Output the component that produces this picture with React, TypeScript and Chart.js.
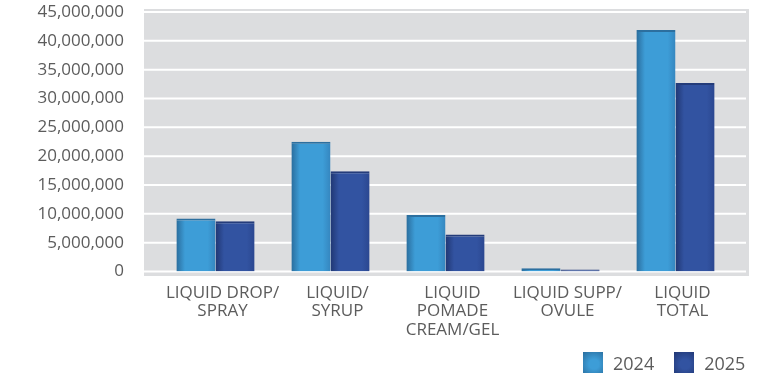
import React, { useEffect, useRef } from "react";
import { Chart, registerables } from "chart.js";

Chart.register(...registerables);

const categories: string[][] = [
  ["LIQUID DROP/", "SPRAY"],
  ["LIQUID/", "SYRUP"],
  ["LIQUID", "POMADE", "CREAM/GEL"],
  ["LIQUID SUPP/", "OVULE"],
  ["LIQUID", "TOTAL"],
];
const seriesNames = ["2024", "2025"];
const values2024 = [9200000, 22500000, 9800000, 550000, 41900000];
const values2025 = [8700000, 17400000, 6400000, 350000, 32700000];
const yMax = 45000000;
const yStep = 5000000;

const palette = [
  { edge: "#2a6d9d", mid: "#3d9dd7", right: "#3586bf", top: "#2c6f9f" },
  { edge: "#213773", mid: "#3253a1", right: "#2b4790", top: "#243c7a" },
];

const CAT_PCT = 0.68;

function makeGradient(ctx: any) {
  const chart = ctx.chart;
  const p = palette[ctx.datasetIndex] || palette[0];
  const xs = chart.scales && chart.scales.x;
  if (!chart.chartArea || !xs || ctx.type !== "data") return p.mid;
  const n = categories.length;
  const center = xs.getPixelForValue(ctx.dataIndex);
  const catW = (xs.right - xs.left) / n;
  const barW = (catW * CAT_PCT) / 2;
  const left = ctx.datasetIndex === 0 ? center - barW : center;
  const g = chart.ctx.createLinearGradient(left, 0, left + barW, 0);
  g.addColorStop(0, p.edge);
  g.addColorStop(0.22, p.mid);
  g.addColorStop(0.8, p.mid);
  g.addColorStop(1, p.right);
  return g;
}

const bgPlugin = {
  id: "plotBg",
  beforeDraw(chart: any) {
    const { ctx, chartArea } = chart;
    if (!chartArea) return;
    const ys = chart.scales.y;
    const l = chartArea.left - 14;
    const r = chartArea.right + 16;
    const t = chartArea.top - 3;
    const b = chartArea.bottom + 4.5;
    ctx.save();
    ctx.fillStyle = "#dcdddf";
    ctx.fillRect(l, t, r - l, b - t);
    ctx.strokeStyle = "#ffffff";
    ctx.lineWidth = 2;
    ys.ticks.forEach((tk: any) => {
      const y = ys.getPixelForValue(tk.value);
      ctx.beginPath();
      ctx.moveTo(l, y);
      ctx.lineTo(r - 3, y);
      ctx.stroke();
    });
    ctx.restore();
  },
};

export default function App() {
  const ref = useRef<HTMLCanvasElement | null>(null);

  useEffect(() => {
    if (!ref.current) return;
    const font = { family: "'Open Sans', sans-serif", size: 17 };
    const chart = new Chart(ref.current, {
      type: "bar",
      data: {
        labels: categories,
        datasets: [
          {
            label: seriesNames[0],
            data: values2024,
            backgroundColor: makeGradient,
            borderColor: palette[0].top,
            borderWidth: { top: 2, left: 0, right: 0, bottom: 0 },
            borderSkipped: "bottom",
            categoryPercentage: CAT_PCT,
            barPercentage: 1,
          },
          {
            label: seriesNames[1],
            data: values2025,
            backgroundColor: makeGradient,
            borderColor: palette[1].top,
            borderWidth: { top: 2, left: 0, right: 0, bottom: 0 },
            borderSkipped: "bottom",
            categoryPercentage: CAT_PCT,
            barPercentage: 1,
          },
        ],
      },
      options: {
        animation: false,
        responsive: true,
        maintainAspectRatio: false,
        layout: { padding: { top: 12, right: 40, left: 8, bottom: 30 } },
        plugins: {
          legend: { display: false },
          tooltip: { enabled: false },
        },
        scales: {
          x: {
            grid: { display: false, drawTicks: false },
            border: { display: false },
            ticks: {
              color: "#5c5c5c",
              font: { ...font, lineHeight: 1.1 },
              padding: 12,
              labelOffset: 7,
              maxRotation: 0,
              autoSkip: false,
            },
            afterFit: (s: any) => {
              s.height = 71.5;
              s.paddingLeft = 0;
              s.paddingRight = 0;
            },
          },
          y: {
            min: 0,
            max: yMax,
            grid: { display: false, drawTicks: false },
            border: { display: false },
            ticks: {
              stepSize: yStep,
              color: "#5c5c5c",
              font,
              padding: 34,
              callback: (v: any) => Number(v).toLocaleString("en-US"),
            },
            afterFit: (s: any) => {
              s.width = 150;
              s.paddingTop = 0;
              s.paddingBottom = 0;
            },
          },
        },
      },
      plugins: [bgPlugin],
    });
    return () => chart.destroy();
  }, []);

  const legendItem = (i: number) => (
    <div style={{ display: "flex", alignItems: "flex-start", marginLeft: i === 0 ? 0 : 20 }}>
      <div
        style={{
          width: 20,
          height: 22,
          background: `radial-gradient(circle at 55% 55%, ${palette[i].mid} 30%, ${palette[i].edge} 100%)`,
        }}
      />
      <span
        style={{
          marginLeft: 10,
          fontFamily: "'Open Sans', sans-serif",
          fontSize: 18,
          color: "#5c5c5c",
          lineHeight: "22px",
        }}
      >
        {seriesNames[i]}
      </span>
    </div>
  );

  return (
    <div style={{ position: "absolute", left: 0, top: 0, width: 773, height: 373, overflow: "hidden", background: "#fff" }}>
      <canvas ref={ref} />
      <div style={{ position: "absolute", left: 583, top: 352, display: "flex" }}>
        {legendItem(0)}
        {legendItem(1)}
      </div>
    </div>
  );
}
